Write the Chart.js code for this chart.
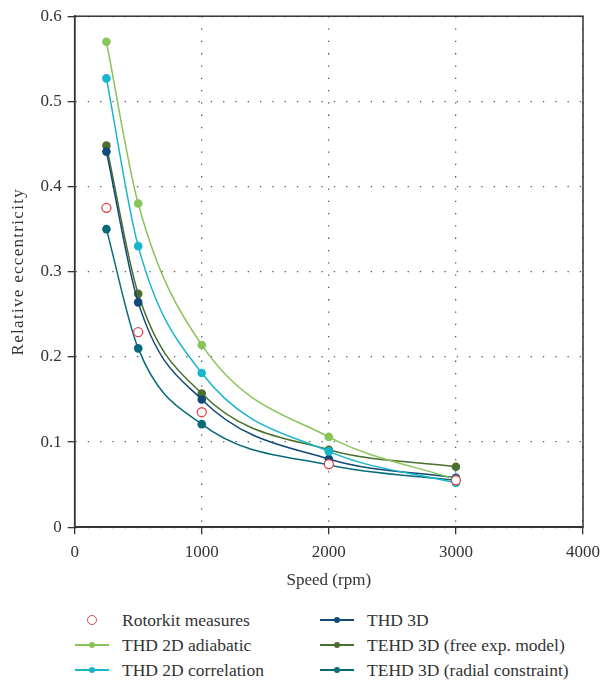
<!DOCTYPE html>
<html>
<head>
<meta charset="utf-8">
<script src="https://cdn.jsdelivr.net/npm/chart.js@4/dist/chart.umd.min.js"></script>
<style>
  html, body { margin: 0; padding: 0; background: #fff; overflow: hidden; }
  #wrap { position: relative; width: 603px; height: 684px; overflow: hidden; }
  #box { position: absolute; left: 0; top: 0; width: 608px; height: 597px; }
  #legend { position: absolute; left: 0; top: 610px; width: 603px; height: 74px;
    font-family: "Liberation Serif", serif; font-size: 17.5px; color: #333; }
  .item { position: absolute; height: 20px; line-height: 20px; white-space: nowrap; }
  .mk { position: absolute; top: 0; width: 34px; height: 20px; }
  .mk .ln { position: absolute; left: 0; right: 0; top: 9px; height: 2px; }
  .mk .dot { position: absolute; left: 14px; top: 7px; width: 6px; height: 6px; border-radius: 50%; }
  .mk .ring { position: absolute; left: 12px; top: 5px; width: 8px; height: 8px; border-radius: 50%; border: 1.3px solid #e0474c; }
  .lbl { position: absolute; left: 47px; top: 0; }
</style>
</head>
<body>
<div id="wrap">
  <div id="box"><canvas id="c"></canvas></div>
  <div id="legend"></div>
</div>
<script>
const speeds = [250, 500, 1000, 2000, 3000];
const rotorkit = [0.375, 0.229, 0.135, 0.074, 0.055];
const thd2dAdiabatic = [0.570, 0.380, 0.214, 0.106, 0.056];
const thd2dCorrelation = [0.527, 0.330, 0.181, 0.089, 0.052];
const thd3d = [0.441, 0.264, 0.150, 0.080, 0.058];
const tehdFree = [0.448, 0.274, 0.157, 0.091, 0.071];
const tehdRadial = [0.350, 0.210, 0.121, 0.073, 0.055];
const xTicks = [0, 1000, 2000, 3000, 4000];
const yTicks = [0, 0.1, 0.2, 0.3, 0.4, 0.5, 0.6];

const names = ["Rotorkit measures", "THD 2D adiabatic", "THD 2D correlation",
  "THD 3D", "TEHD 3D (free exp. model)", "TEHD 3D (radial constraint)"];
const colors = ["#e0474c", "#88c459", "#17b6cc", "#0f4a78", "#4a6f2c", "#056b78"];
const series = [rotorkit, thd2dAdiabatic, thd2dCorrelation, thd3d, tehdFree, tehdRadial];

const toPts = arr => arr.map((v, i) => ({ x: speeds[i], y: v }));

const datasets = series.map((s, i) => {
  if (i === 0) {
    return {
      label: names[i], data: toPts(s), showLine: false,
      borderColor: colors[i], backgroundColor: "#ffffff",
      pointRadius: 4.5, pointBorderWidth: 1.3, pointStyle: "circle"
    };
  }
  return {
    label: names[i], data: toPts(s), showLine: true,
    borderColor: colors[i], backgroundColor: colors[i],
    pointBackgroundColor: colors[i], pointBorderColor: colors[i],
    pointRadius: 4.3, pointBorderWidth: 0, borderWidth: 1.5,
    cubicInterpolationMode: "monotone"
  };
});

const frame = {
  id: "frame",
  beforeDraw(chart) {
    const s = chart.scales.y;
    if (s && !s._spacedTitle) {
      const orig = s.drawTitle.bind(s);
      s.drawTitle = function () {
        const ctx = chart.ctx;
        ctx.save();
        ctx.letterSpacing = "1.3px";
        orig();
        ctx.restore();
      };
      s._spacedTitle = true;
    }
  },
  afterDatasetsDraw(chart) {
    const a = chart.chartArea, ctx = chart.ctx;
    ctx.save();
    ctx.strokeStyle = "#333";
    ctx.lineWidth = 1.5;
    ctx.setLineDash([]);
    ctx.strokeRect(a.left, a.top, a.right - a.left, a.bottom - a.top);
    ctx.restore();
  }
};

const font = { family: "'Liberation Serif', serif", size: 17 };

new Chart(document.getElementById("c"), {
  type: "scatter",
  data: { datasets },
  plugins: [frame],
  options: {
    responsive: true, maintainAspectRatio: false, animation: false,
    layout: { padding: { left: 4, top: 6, right: 0, bottom: 2 } },
    plugins: { legend: { display: false }, tooltip: { enabled: false } },
    scales: {
      x: {
        type: "linear", min: 0, max: 4000,
        afterBuildTicks: ax => { ax.ticks = xTicks.map(v => ({ value: v })); },
        ticks: { color: "#333", font, padding: 8, callback: v => String(v) },
        grid: { color: "#555", lineWidth: 1.3, tickBorderDash: [],
          tickColor: "#333", tickLength: 7, drawTicks: true },
        border: { display: true, color: "#333", width: 1.5, dash: [1.3, 11] },
        title: { display: true, text: "Speed (rpm)", color: "#333", font, padding: { top: 0 } }
      },
      y: {
        type: "linear", min: 0, max: 0.6,
        afterBuildTicks: ax => { ax.ticks = yTicks.map(v => ({ value: v })); },
        ticks: { color: "#333", font, padding: 6, callback: v => String(v) },
        grid: { color: "#555", lineWidth: 1.3, tickBorderDash: [],
          tickColor: "#333", tickLength: 7, drawTicks: true },
        border: { display: true, color: "#333", width: 1.5, dash: [1.3, 11] },
        title: { display: true, text: "Relative eccentricity", color: "#333", font, padding: { bottom: 6 } }
      }
    }
  }
});

const order = [[0, 75, 0], [1, 75, 25], [2, 75, 50], [3, 320, 0], [4, 320, 25], [5, 320, 50]];
const leg = document.getElementById("legend");
order.forEach(([i, left, top]) => {
  const it = document.createElement("div");
  it.className = "item";
  it.style.left = left + "px";
  it.style.top = top + "px";
  const mk = document.createElement("div");
  mk.className = "mk";
  if (i === 0) {
    mk.innerHTML = '<div class="ring"></div>';
  } else {
    mk.innerHTML = '<div class="ln" style="background:' + colors[i] + '"></div>' +
      '<div class="dot" style="background:' + colors[i] + '"></div>';
  }
  const lb = document.createElement("span");
  lb.className = "lbl";
  lb.textContent = names[i];
  it.appendChild(mk);
  it.appendChild(lb);
  leg.appendChild(it);
});
</script>
</body>
</html>
